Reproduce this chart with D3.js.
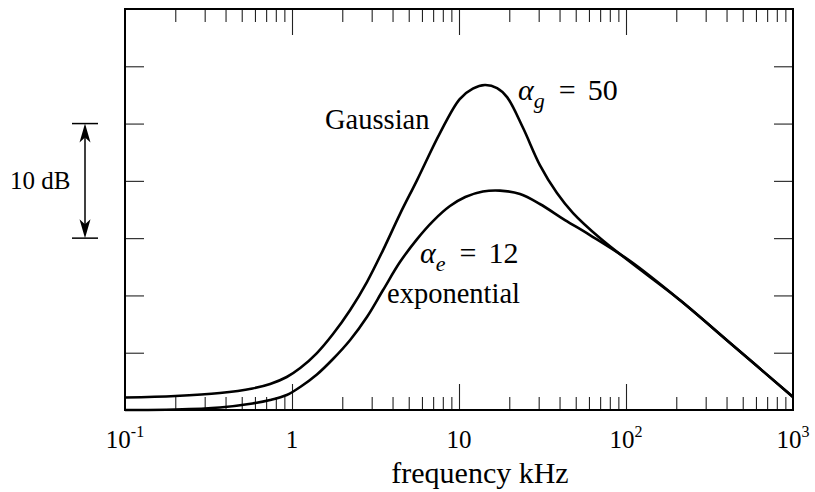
<!DOCTYPE html>
<html>
<head>
<meta charset="utf-8">
<script src="https://cdn.jsdelivr.net/npm/d3@7"></script>
<style>
  body { margin: 0; background: #fff; }
  text { font-family: "Liberation Serif", "Times New Roman", serif; fill: #000; }
</style>
</head>
<body>
<svg id="chart" width="815" height="492"></svg>
<script>
// Filter response (relative dB) against frequency in kHz
const gaussFreq = [0.1, 0.2, 0.37, 0.58, 0.74, 0.93, 1.12, 1.41, 1.76, 2.23, 2.81, 3.51, 4.43, 5.61, 7.69, 10.1, 12.1, 14.3, 16.9, 19.4, 24.2, 30.5, 38.6, 48.2, 69.8, 106, 210, 420, 1000];
const gaussDb   = [1.09, 1.22, 1.48, 1.88, 2.27, 2.88, 3.66, 4.97, 6.63, 8.73, 11.17, 13.96, 17.10, 20.07, 24.17, 27.14, 28.05, 28.36, 28.10, 27.31, 24.61, 21.38, 18.94, 17.19, 15.01, 12.91, 9.60, 5.85, 1.13];

const expoFreq = [0.1, 0.2, 0.37, 0.58, 0.74, 0.93, 1.12, 1.41, 1.76, 2.23, 2.81, 3.51, 4.43, 5.61, 6.99, 8.83, 10.9, 13.9, 17.6, 23.2, 30.5, 43.1, 60.8, 106, 210, 420, 1000];
const expoDb   = [0.0, 0.04, 0.22, 0.57, 0.87, 1.31, 2.01, 3.10, 4.45, 6.11, 8.12, 10.47, 12.91, 14.92, 16.49, 17.80, 18.59, 19.07, 19.15, 18.85, 17.98, 16.58, 15.27, 13.0, 9.60, 5.85, 1.13];

const decadeTicks  = [0.1, 1, 10, 100, 1000];
const decadeBase   = ["10", "1", "10", "10", "10"];
const decadeExp    = ["-1", "", "", "2", "3"];
const levelTicks   = [5, 10, 15, 20, 25, 30];
const scaleBarDb   = [15, 25];
const scaleBarText = "10 dB";
const xTitle = "frequency kHz";

const W = 815, H = 492;
const margin = { top: 9, right: 22, bottom: 82, left: 125 };
const svg = d3.select("#chart");

const x = d3.scaleLog().domain([0.1, 1000]).range([margin.left, W - margin.right]);
const y = d3.scaleLinear().domain([0, 35]).range([H - margin.bottom, margin.top]);

const minorTicks = [];
for (let d = 0.1; d < 1000; d *= 10) for (let k = 2; k <= 9; k++) minorTicks.push(+(d * k).toPrecision(3));
const innerMajor = decadeTicks.slice(1, -1);

const x0 = margin.left, x1 = W - margin.right, y0 = margin.top, y1 = H - margin.bottom;

function xAxisGroup(axisFn, yPos, values, size) {
  const g = svg.append("g").attr("transform", `translate(0,${yPos})`)
    .call(axisFn(x).tickValues(values).tickSize(size).tickFormat(""));
  g.select(".domain").remove();
  g.selectAll(".tick line").attr("stroke", "#222").attr("stroke-width", 1.1);
}
// bottom: ticks point up into the plot, top: ticks point down
xAxisGroup(d3.axisBottom, y1, minorTicks, -13);
xAxisGroup(d3.axisBottom, y1, innerMajor, -26);
xAxisGroup(d3.axisTop, y0, minorTicks, -13);
xAxisGroup(d3.axisTop, y0, innerMajor, -26);

function yAxisGroup(axisFn, xPos) {
  const g = svg.append("g").attr("transform", `translate(${xPos},0)`)
    .call(axisFn(y).tickValues(levelTicks).tickSize(-19).tickFormat(""));
  g.select(".domain").remove();
  g.selectAll(".tick line").attr("stroke", "#222").attr("stroke-width", 1.1);
}
yAxisGroup(d3.axisLeft, x0);
yAxisGroup(d3.axisRight, x1);

// frame
svg.append("rect").attr("x", x0).attr("y", y0).attr("width", x1 - x0).attr("height", y1 - y0)
  .attr("fill", "none").attr("stroke", "#000").attr("stroke-width", 2);

// decade labels with superscript exponents
decadeTicks.forEach((v, i) => {
  const t = svg.append("text").attr("x", x(v)).attr("y", y1 + 38)
    .attr("text-anchor", "middle").style("font-size", "25px");
  t.append("tspan").text(decadeBase[i]);
  if (decadeExp[i]) {
    t.append("tspan").attr("dy", -11).style("font-size", "16px").text(decadeExp[i]);
  }
});

svg.append("text").attr("x", 480).attr("y", 483)
  .attr("text-anchor", "middle").style("font-size", "30px").text(xTitle);

// curves
const line = d3.line().x(d => x(d[0])).y(d => y(d[1])).curve(d3.curveCatmullRom.alpha(0.5));
const gaussPts = gaussFreq.map((f, i) => [f, gaussDb[i]]);
const expoPts = expoFreq.map((f, i) => [f, expoDb[i]]);
[gaussPts, expoPts].forEach(pts => {
  svg.append("path").datum(pts).attr("d", line)
    .attr("fill", "none").attr("stroke", "#000").attr("stroke-width", 2.6)
    .attr("stroke-linejoin", "round");
});

// curve annotations
svg.append("text").attr("x", 325).attr("y", 129).style("font-size", "28.5px").text("Gaussian");
svg.append("text").attr("x", 387).attr("y", 303).style("font-size", "28.5px").text("exponential");

function alphaLabel(xp, yp, sub, rest) {
  const t = svg.append("text").attr("x", xp).attr("y", yp).style("font-size", "30px");
  t.append("tspan").style("font-style", "italic").text("α");
  t.append("tspan").style("font-style", "italic").style("font-size", "22px").attr("dy", 8).text(sub);
  t.append("tspan").attr("dy", -8).attr("dx", 14).text("=");
  t.append("tspan").attr("dx", 12).text(rest);
}
alphaLabel(518, 100, "g", "50");
alphaLabel(420, 263, "e", "12");

// 10 dB scale bar
const barX = 85, capHalf = 13;
const yTop = y(scaleBarDb[1]), yBot = y(scaleBarDb[0]);
const bar = svg.append("g").attr("stroke", "#000").attr("stroke-width", 1.5);
bar.append("line").attr("x1", barX - capHalf).attr("x2", barX + capHalf).attr("y1", yTop).attr("y2", yTop);
bar.append("line").attr("x1", barX - capHalf).attr("x2", barX + capHalf).attr("y1", yBot).attr("y2", yBot);
bar.append("line").attr("x1", barX).attr("x2", barX).attr("y1", yTop + 8).attr("y2", yBot - 8);
const headLen = 19, headW = 5.5, notch = 5;
svg.append("path")
  .attr("d", `M${barX},${yTop} L${barX + headW},${yTop + headLen} L${barX},${yTop + headLen - notch} L${barX - headW},${yTop + headLen} Z`)
  .attr("fill", "#000");
svg.append("path")
  .attr("d", `M${barX},${yBot} L${barX + headW},${yBot - headLen} L${barX},${yBot - headLen + notch} L${barX - headW},${yBot - headLen} Z`)
  .attr("fill", "#000");
svg.append("text").attr("x", 10).attr("y", (yTop + yBot) / 2 + 8)
  .style("font-size", "25px").text(scaleBarText);
</script>
</body>
</html>
